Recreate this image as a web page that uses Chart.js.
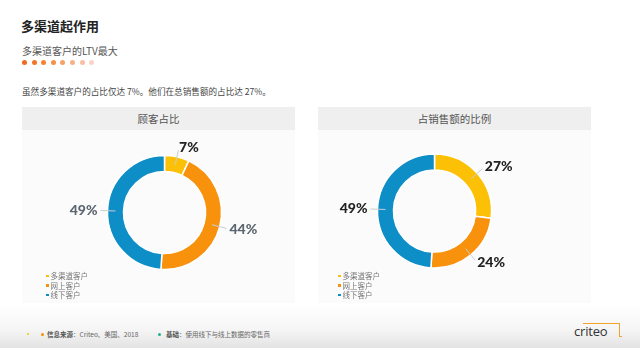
<!DOCTYPE html>
<html>
<head>
<meta charset="utf-8">
<script src="https://cdn.jsdelivr.net/npm/chart.js@4"></script>
<style>
  html, body { margin: 0; padding: 0; }
  body {
    width: 640px; height: 348px; overflow: hidden; position: relative;
    font-family: "Noto Sans CJK SC", "Noto Sans", sans-serif;
    background: linear-gradient(to bottom, #fff 0, #fff 305px, #f5f5f5 330px, #e3e3e3 348px);
  }
  .abs { position: absolute; }
  #title { left: 21px; top: 16px; font-size: 13px; font-weight: bold; color: #222; }
  #subtitle { left: 22px; top: 43px; font-size: 10px; color: #555; }
  #dots { left: 22px; top: 60px; display: flex; gap: 4.6px; }
  #dots span { width: 5px; height: 5px; border-radius: 50%; display: block; }
  #intro { left: 22px; top: 85px; font-size: 8.6px; color: #444; font-family: "Noto Sans CJK SC", serif; }
  .panel { top: 107px; width: 273px; height: 196px; background: #fbfbfb; }
  .panel .head {
    height: 23px; background: #efefef; color: #555; font-size: 10.5px;
    text-align: center; line-height: 23px;
  }
  #panelL { left: 22px; }
  #panelR { left: 318px; }
  canvas { position: absolute; }
  .legend { list-style: none; margin: 0; padding: 0; font-size: 7.5px; color: #777; }
  .legend li { height: 9.5px; line-height: 9.5px; display: flex; align-items: center; overflow: visible; }
  .legend i { width: 2.5px; height: 2.5px; display: inline-block; margin-right: 2px; }
  #foot { top: 329px; font-size: 6.5px; color: #666; }
  #foot b { color: #555; }
  .fdot { width: 3px; height: 3px; border-radius: 50%; display: inline-block; }
  #logo { left: 574px; top: 322px; font-family: "Open Sans", sans-serif; font-size: 13px; color: #333; letter-spacing: -0.2px; }
  #bracket { left: 583px; top: 323px; width: 36px; height: 13px; border-top: 1px solid #f3a52a; border-right: 1px solid #f3a52a; }
  #bracketEnd { left: 619px; top: 336px; width: 3px; height: 1px; background: #f3a52a; }
</style>
</head>
<body>
<div id="title" class="abs">多渠道起作用</div>
<div id="subtitle" class="abs">多渠道客户的LTV最大</div>
<div id="dots" class="abs"></div>
<div id="intro" class="abs">虽然多渠道客户的占比仅达 7%。他们在总销售额的占比达 27%。</div>

<div id="panelL" class="abs panel"><div class="head">顾客占比</div></div>
<div id="panelR" class="abs panel"><div class="head">占销售额的比例</div></div>

<canvas id="chartL" width="273" height="170" style="left:22px;top:131px"></canvas>
<canvas id="chartR" width="273" height="170" style="left:318px;top:131px"></canvas>

<ul id="legendL" class="abs legend" style="left:46px;top:271px"></ul>
<ul id="legendR" class="abs legend" style="left:338px;top:271px"></ul>

<div class="abs fdot" style="left:27px;top:333px;width:2px;height:2px;background:#f5c400"></div>
<div class="abs fdot" style="left:41px;top:333px;background:#f39200"></div>
<div id="foot" class="abs" style="left:47px"><b>信息来源</b>：Criteo、美国、2018</div>
<div class="abs fdot" style="left:158px;top:333px;background:#1fae8c"></div>
<div id="foot2" class="abs" style="left:166px;top:329px;font-size:6.5px;color:#666"><b style="color:#555">基础</b>：使用线下与线上数据的零售商</div>

<div id="bracket" class="abs"></div>
<div id="bracketEnd" class="abs"></div>
<div id="logo" class="abs">criteo</div>

<script>
const categories = ['多渠道客户', '网上客户', '线下客户'];
const customerShare = [7, 44, 49];
const salesShare = [27, 24, 49];

const sliceColors = ['#fcc006', '#f8910c', '#0d8ec7'];
const dotColors = ['#f06a1f', '#f27628', '#f48336', '#f59048', '#f6a06a', '#f7b08a', '#f8bfa5', '#f9d3c7'];

// header dots
const dotsBox = document.getElementById('dots');
dotColors.forEach(c => {
    const s = document.createElement('span');
    s.style.background = c;
    dotsBox.appendChild(s);
});

// legends
function fillLegend(id) {
    const ul = document.getElementById(id);
    categories.forEach((name, i) => {
        const li = document.createElement('li');
        li.innerHTML = '<i style="background:' + sliceColors[i] + '"></i>' + name;
        ul.appendChild(li);
    });
}
fillLegend('legendL');
fillLegend('legendR');

// percent labels outside the ring, with short leader lines
const pctLabels = {
    id: 'pctLabels',
    afterDatasetsDraw(chart, args, opts) {
        const ctx = chart.ctx;
        const meta = chart.getDatasetMeta(0);
        const values = chart.data.datasets[0].data;
        meta.data.forEach((arc, i) => {
            const p = arc.getProps(['x', 'y', 'startAngle', 'endAngle', 'outerRadius'], true);
            const mid = (p.startAngle + p.endAngle) / 2;
            const cos = Math.cos(mid), sin = Math.sin(mid);
            ctx.save();
            ctx.strokeStyle = '#c9cdd1';
            ctx.lineWidth = 1;
            ctx.beginPath();
            ctx.moveTo(p.x + cos * (p.outerRadius - 8), p.y + sin * (p.outerRadius - 8));
            ctx.lineTo(p.x + cos * (p.outerRadius + 7), p.y + sin * (p.outerRadius + 7));
            ctx.stroke();
            ctx.fillStyle = opts.colors[i];
            ctx.font = '900 14px Lato, "DejaVu Sans", sans-serif';
            ctx.textAlign = cos >= 0 ? 'left' : 'right';
            ctx.textBaseline = 'middle';
            ctx.fillText(values[i] + '%', p.x + cos * (p.outerRadius + 10), p.y + sin * (p.outerRadius + 10));
            ctx.restore();
        });
    }
};

function makeDonut(canvasId, values, padding, labelColors) {
    new Chart(document.getElementById(canvasId).getContext('2d'), {
        type: 'doughnut',
        data: {
            labels: categories,
            datasets: [{
                data: values,
                backgroundColor: sliceColors,
                borderColor: '#ffffff',
                borderWidth: 1.5,
                radius: 57,
                cutout: '72%'
            }]
        },
        options: {
            responsive: false,
            animation: false,
            layout: { padding: padding },
            plugins: {
                legend: { display: false },
                tooltip: { enabled: false },
                pctLabels: { colors: labelColors }
            }
        },
        plugins: [pctLabels]
    });
}

makeDonut('chartL', customerShare, { left: 12, right: 0, top: 0, bottom: 7 }, ['#222222', '#5b6670', '#5b6670']);
makeDonut('chartR', salesShare, { left: 0, right: 40, top: 0, bottom: 10 }, ['#222222', '#222222', '#222222']);
</script>
</body>
</html>
